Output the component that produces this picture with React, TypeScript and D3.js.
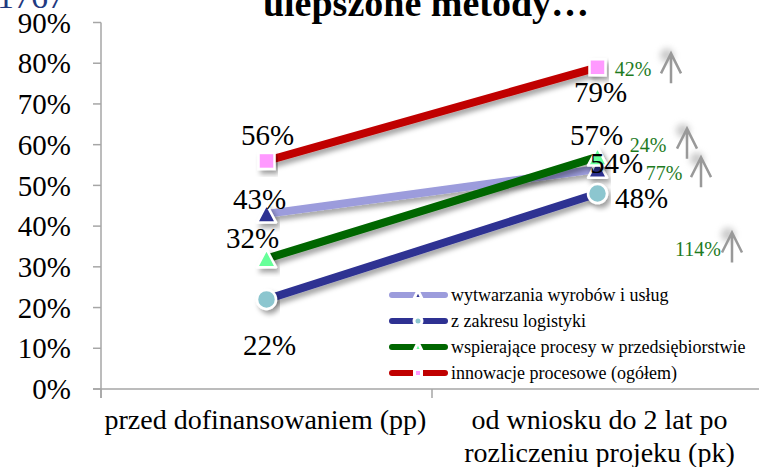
import * as d3 from 'd3';

// categories and series (percent)
const categories = ['pp', 'pk'];
const categoryLines = [
  ['przed dofinansowaniem (pp)'],
  ['od wniosku do 2 lat po', 'rozliczeniu projeku (pk)'],
];
const seriesNames = [
  'wytwarzania wyrobów i usług',
  'z zakresu logistyki',
  'wspierające procesy w przedsiębiorstwie',
  'innowacje procesowe (ogółem)',
];
const wytwarzania = [43, 54];
const logistyka = [22, 48];
const wspierajace = [32, 57];
const innowacje = [56, 79];
const yTicks = [0, 10, 20, 30, 40, 50, 60, 70, 80, 90];

// growth annotations (label, value level it sits at)
const growthLabels = ['42%', '24%', '77%', '114%'];
const growthLevels = [78.5, 60, 53, 34.5];

const W = 759;
const H = 467;

type Marker = 'triangle' | 'circle' | 'square';

const series = [
  { name: seriesNames[0], values: wytwarzania, line: '#9c9cdc', fill: '#2e3192', marker: 'triangle' as Marker },
  { name: seriesNames[1], values: logistyka, line: '#2e3192', fill: '#8cc6cf', marker: 'circle' as Marker },
  { name: seriesNames[2], values: wspierajace, line: '#006600', fill: '#66ff99', marker: 'triangle' as Marker },
  { name: seriesNames[3], values: innowacje, line: '#c00000', fill: '#ff99ff', marker: 'square' as Marker },
];

// label offsets per series per point: [dx, dy]
const labelPos: [number, number][][] = [
  [[-7, -5], [19, 4]],
  [[3, 56], [44, 14]],
  [[-14, -11], [-1, -12]],
  [[1, -16], [3, 35]],
];

function MarkerShape({ kind, x, y, size, fill, stroke = '#fff', sw = 2 }: any) {
  if (kind === 'circle') {
    return <circle cx={x} cy={y} r={size / 2} fill={fill} stroke={stroke} strokeWidth={sw} />;
  }
  if (kind === 'square') {
    return <rect x={x - size / 2} y={y - size / 2} width={size} height={size} fill={fill} stroke={stroke} strokeWidth={sw} />;
  }
  const h = size * 0.9;
  const p = `M${x},${y - h / 2 - 1} L${x + size / 2},${y + h / 2} L${x - size / 2},${y + h / 2} Z`;
  return <path d={p} fill={fill} stroke={stroke} strokeWidth={sw} strokeLinejoin="round" />;
}

export default function App() {
  const x = d3.scalePoint<string>().domain(categories).range([101, 763]).padding(0.5);
  const y = d3.scaleLinear().domain([0, 90]).range([389, 22.5]);
  const line = d3
    .line<number>()
    .x((_, i) => x(categories[i]) as number)
    .y((d) => y(d));

  const axisColor = '#a6a6a6';
  const serif = '"Liberation Serif", "Times New Roman", serif';

  return (
    <div style={{ position: 'fixed', left: 0, top: 0 }}>
      <svg width={W} height={H} style={{ display: 'block', background: '#fff', fontFamily: serif }}>
        <defs>
          <filter id="shadow" x="-20%" y="-50%" width="140%" height="200%">
            <feDropShadow dx="3" dy="4" stdDeviation="2.5" floodColor="#000" floodOpacity="0.35" />
          </filter>
          <filter id="glow" x="-100%" y="-100%" width="300%" height="300%">
            <feGaussianBlur stdDeviation="3" />
          </filter>
        </defs>

        {/* cropped headline pieces */}
        <text x={-3} y={8} fontSize={34} fill="#1f3a80">1767</text>
        <text x={426} y={16} fontSize={38} fontWeight="bold" textAnchor="middle" fill="#000">
          ulepszone metody…
        </text>

        {/* y axis */}
        <line x1={101} x2={101} y1={y(90)} y2={y(0) + 9} stroke={axisColor} strokeWidth={1.5} />
        {yTicks.map((t) => (
          <g key={t}>
            <line x1={93} x2={101} y1={y(t)} y2={y(t)} stroke={axisColor} strokeWidth={1.5} />
            <text x={71} y={y(t)} dy="0.35em" textAnchor="end" fontSize={29} fill="#000">
              {t}%
            </text>
          </g>
        ))}

        {/* x axis */}
        <line x1={93} x2={W} y1={y(0)} y2={y(0)} stroke={axisColor} strokeWidth={1.5} />
        {[101, ((x(categories[0]) as number) + (x(categories[1]) as number)) / 2].map((tx) => (
          <line key={tx} x1={tx} x2={tx} y1={y(0)} y2={y(0) + 9} stroke={axisColor} strokeWidth={1.5} />
        ))}
        {categories.map((c, i) => (
          <text key={c} textAnchor="middle" fontSize={28} fill="#000">
            {categoryLines[i].map((ln, j) => (
              <tspan key={j} x={(x(c) as number) + (i === 0 ? -1 : 2)} y={429 + j * 33}>
                {ln}
              </tspan>
            ))}
          </text>
        ))}

        {/* lines */}
        {series.map((s) => (
          <path
            key={s.name}
            d={line(s.values) as string}
            fill="none"
            stroke={s.line}
            strokeWidth={8}
            strokeLinecap="round"
            filter="url(#shadow)"
          />
        ))}

        {/* markers */}
        {series.map((s) =>
          s.values.map((v, i) => (
            <g key={s.name + i} filter="url(#shadow)">
              <MarkerShape
                kind={s.marker}
                x={x(categories[i])}
                y={y(v)}
                size={s.marker === 'square' ? 16 : 19}
                fill={s.fill}
                sw={2.5}
              />
            </g>
          ))
        )}

        {/* value labels */}
        {series.map((s, si) =>
          s.values.map((v, i) => (
            <text
              key={s.name + 'l' + i}
              x={(x(categories[i]) as number) + labelPos[si][i][0]}
              y={y(v) + labelPos[si][i][1]}
              textAnchor="middle"
              fontSize={29}
              fill="#000"
            >
              {v}%
            </text>
          ))
        )}

        {/* growth annotations */}
        {growthLabels.map((g, i) => {
          const tx = [633, 648, 664, 698][i];
          const ax = [671, 687, 701, 732][i];
          const ty = y(growthLevels[i]);
          const top = ty - 16;
          return (
            <g key={g}>
              <text x={tx} y={ty} dy="0.35em" textAnchor="middle" fontSize={20} fill="#1e7b1e">
                {g}
              </text>
              <circle cx={ax - 4} cy={top + 2} r={7} fill="#999" opacity={0.5} filter="url(#glow)" />
              <path
                d={`M${ax - 10},${top + 20} L${ax},${top} L${ax + 10},${top + 20} M${ax},${top} L${ax},${top + 30}`}
                fill="none"
                stroke="#999"
                strokeWidth={2.5}
              />
            </g>
          );
        })}

        {/* legend */}
        {series.map((s, i) => {
          const ly = 295 + i * 26;
          return (
            <g key={s.name + 'leg'}>
              <line x1={392} x2={445} y1={ly} y2={ly} stroke={s.line} strokeWidth={6} strokeLinecap="round" />
              <MarkerShape kind={s.marker} x={418} y={ly} size={s.marker === 'square' ? 7 : 8} fill={s.fill} sw={3} />
              <text x={451} y={ly} dy="0.35em" fontSize={18} fill="#000">
                {s.name}
              </text>
            </g>
          );
        })}
      </svg>
    </div>
  );
}
